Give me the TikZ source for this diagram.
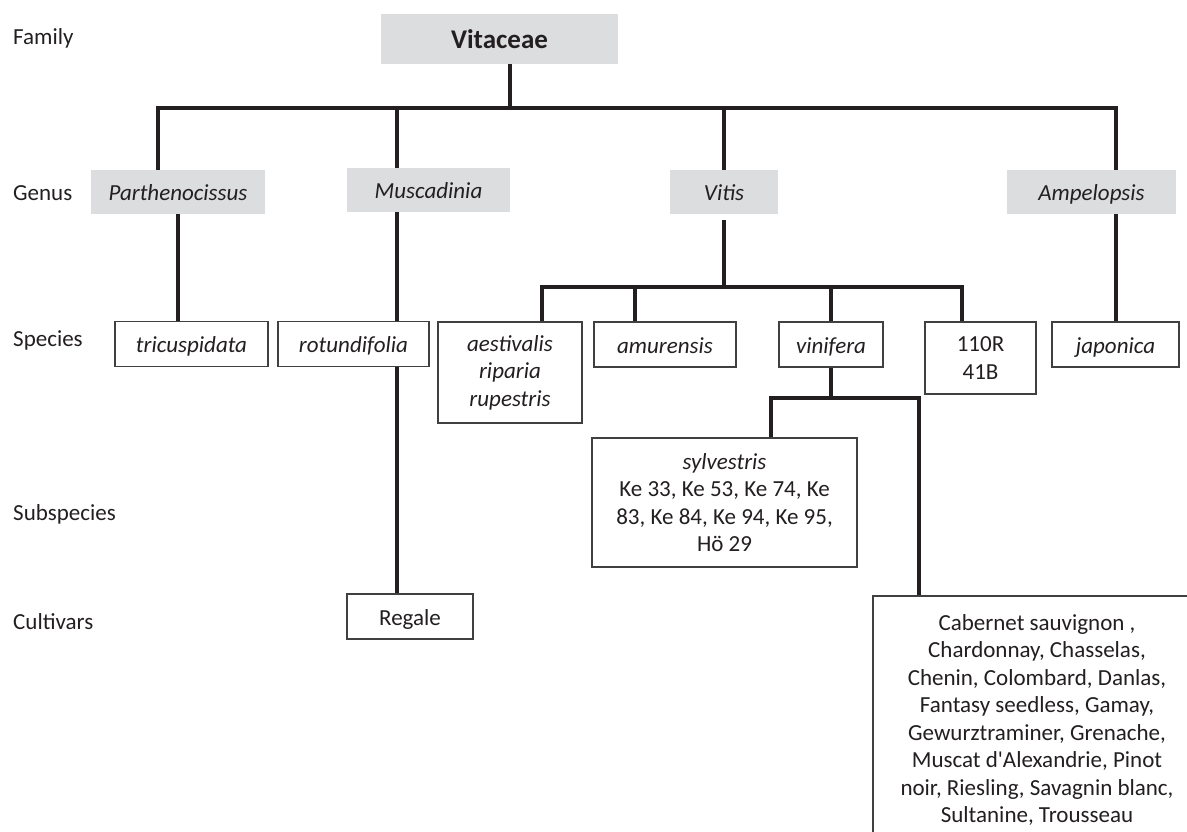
\documentclass[tikz,border=0pt]{standalone}
\usepackage{fontspec}
\setmainfont{Carlito}
\usetikzlibrary{positioning}
\definecolor{ink}{HTML}{231F20}
\definecolor{shade}{HTML}{DCDDDE}
\definecolor{rim}{HTML}{404040}
\newcommand{\sz}{\fontsize{23}{27.5}\selectfont}

\begin{document}
\begin{tikzpicture}[x=1pt,y=-1pt,font=\sz,text=ink,
  rank/.style={anchor=west,inner sep=0pt},
  one/.style={text height=20pt,text depth=3pt},
  genus/.style={fill=shade,inner sep=0pt,minimum height=44pt,one,font=\sz\itshape},
  taxon/.style={draw=rim,line width=1.2pt,fill=white,inner sep=0pt,align=center,
                minimum height=45pt},
  link/.style={ink,line width=3.8pt}]
\useasboundingbox (0,0) rectangle (1187,832);
\clip (0,0) rectangle (1187,832);

% ---------------- rank labels
\node[rank] (lfam) at (13,38)  {Family};
\node[rank] (lgen) at (13,193) {Genus};
\node[rank] (lspe) at (13,340) {Species};
\node[rank] (lsub) at (13,514) {Subspecies};
\node[rank] (lcul) at (13,622) {Cultivars};

% ---------------- family and genera
\node[fill=shade,minimum width=237pt,minimum height=50pt,
      font=\fontsize{27}{32}\selectfont\bfseries] (fam) at (499.5,39) {Vitaceae};
\node[genus,minimum width=174pt] (parth) at (178,192)    {Parthenocissus};
\node[genus,minimum width=163pt] (musc)  at (428.5,190)  {Muscadinia};
\node[genus,minimum width=108pt] (vitis) at (724,192)    {Vitis};
\node[genus,minimum width=169pt] (ampel) at (1091.5,192) {Ampelopsis};

% ---------------- species
\node[taxon,one,minimum width=153pt,font=\sz\itshape] (tric)   at (191.5,344)  {tricuspidata};
\node[taxon,one,minimum width=151pt,font=\sz\itshape] (rotund) at (353.5,344)  {rotundifolia};
\node[taxon,minimum width=144pt,minimum height=101pt,font=\sz\itshape] (aest) at (510,372.5)
     {aestivalis\\riparia\\rupestris};
\node[taxon,one,minimum width=142pt,font=\sz\itshape] (amur)   at (665,344.5)  {amurensis};
\node[taxon,one,minimum width=104pt,font=\sz\itshape] (vinif)  at (831,344.5)  {vinifera};
\node[taxon,minimum width=111pt,minimum height=72pt] (rtwo) at (980.5,358) {110R\\41B};
\node[taxon,one,minimum width=127pt,font=\sz\itshape] (japon)  at (1115.5,344.5) {japonica};

% ---------------- subspecies and cultivars
\node[taxon,one,minimum width=126pt] (regale) at (410,616.5) {Regale};
\node[taxon,minimum width=265pt,minimum height=129pt] (sylv) at (724.5,502.5)
     {\textit{sylvestris}\\Ke 33, Ke 53, Ke 74, Ke\\83, Ke 84, Ke 94, Ke 95,\\Hö 29};
\node[taxon,minimum width=328pt,minimum height=248pt] (cult) at (1037,720)
     {Cabernet sauvignon ,\\Chardonnay, Chasselas,\\Chenin, Colombard, Danlas,\\Fantasy seedless, Gamay,\\
      Gewurztraminer, Grenache,\\Muscat d\textquotesingle Alexandrie, Pinot\\noir, Riesling, Savagnin blanc,\\Sultanine, Trousseau};

% ---------------- family to genera
\coordinate (jfam) at (510,108);
\coordinate (jpar) at (158,108);
\coordinate (jmus) at (397,108);
\coordinate (jvit) at (724,108);
\coordinate (jamp) at (1116,108);
\draw[link] (fam.south -| jfam) -- (jfam);
\draw[link] (parth.north -| jpar) -- (jpar) -- (jamp) -- (ampel.north -| jamp);
\draw[link] (jmus) -- (musc.north -| jmus);
\draw[link] (jvit) -- (vitis.north -| jvit);

% ---------------- genera to species
\draw[link] (parth.south) -- (parth.south |- tric.north);
\draw[link] (musc.south -| jmus) -- (rotund.north -| jmus);
\draw[link] (ampel.south -| jamp) -- (japon.north -| jamp);
\coordinate (vbar) at (724,287);
\coordinate (vaes) at (542,287);
\coordinate (vamu) at (635,287);
\coordinate (vvin) at (831,287);
\coordinate (vtwo) at (962,287);
\draw[link,shorten <=6pt] (vitis.south) -- (vbar);
\draw[link] (aest.north -| vaes) -- (vaes) -- (vtwo) -- (rtwo.north -| vtwo);
\draw[link] (vamu) -- (amur.north -| vamu);
\draw[link] (vvin) -- (vinif.north);

% ---------------- below species
\draw[link] (rotund.south -| jmus) -- (regale.north -| jmus);
\coordinate (jsyl) at (771,398);
\coordinate (jcul) at (919,398);
\draw[link] (vinif.south) -- (vinif.south |- jsyl);
\draw[link] (sylv.north -| jsyl) -- (jsyl) -- (jcul) -- (cult.north -| jcul);
\end{tikzpicture}
\end{document}
